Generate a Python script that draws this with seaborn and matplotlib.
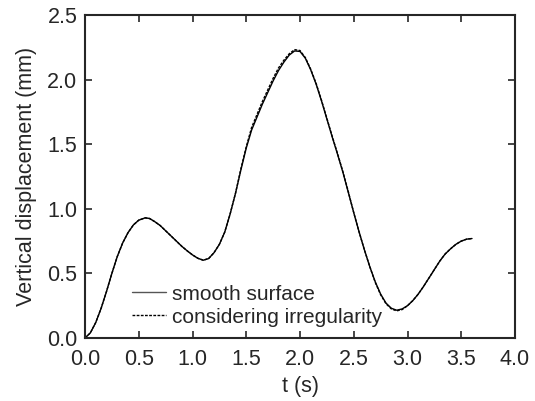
import numpy as np
import pandas as pd
import matplotlib
matplotlib.use("Agg")
import matplotlib.pyplot as plt
import seaborn as sns

t = [0.0, 0.05, 0.1, 0.15, 0.2, 0.25, 0.3, 0.35, 0.4, 0.45, 0.5, 0.56, 0.6, 0.65,
     0.7, 0.75, 0.8, 0.85, 0.9, 0.95, 1.0, 1.05, 1.1, 1.15, 1.2, 1.25, 1.3, 1.35,
     1.4, 1.45, 1.5, 1.55, 1.6, 1.65, 1.7, 1.75, 1.8, 1.85, 1.9, 1.95, 2.0, 2.05,
     2.1, 2.15, 2.2, 2.25, 2.3, 2.35, 2.4, 2.45, 2.5, 2.55, 2.6, 2.65, 2.7, 2.75,
     2.8, 2.85, 2.9, 2.95, 3.0, 3.05, 3.1, 3.15, 3.2, 3.25, 3.3, 3.35, 3.4, 3.45,
     3.5, 3.55, 3.6]
smooth = [0.0, 0.04, 0.12, 0.23, 0.36, 0.50, 0.63, 0.735, 0.815, 0.875, 0.912, 0.93, 0.925, 0.90,
          0.87, 0.83, 0.79, 0.75, 0.71, 0.675, 0.643, 0.617, 0.602, 0.615, 0.66, 0.725, 0.82, 0.96,
          1.12, 1.30, 1.47, 1.61, 1.71, 1.81, 1.90, 1.99, 2.07, 2.135, 2.19, 2.222, 2.218, 2.165,
          2.075, 1.965, 1.835, 1.695, 1.555, 1.42, 1.28, 1.125, 0.97, 0.82, 0.68, 0.55, 0.435, 0.34,
          0.27, 0.23, 0.215, 0.225, 0.25, 0.29, 0.34, 0.40, 0.465, 0.53, 0.595, 0.65, 0.69, 0.725,
          0.75, 0.765, 0.77]
irregular = [0.0, 0.04, 0.12, 0.23, 0.36, 0.50, 0.63, 0.735, 0.815, 0.875, 0.912, 0.93, 0.925, 0.90,
             0.87, 0.83, 0.79, 0.75, 0.71, 0.675, 0.643, 0.617, 0.602, 0.615, 0.66, 0.725, 0.82, 0.96,
             1.12, 1.31, 1.48, 1.63, 1.73, 1.83, 1.92, 2.01, 2.09, 2.15, 2.20, 2.232, 2.225, 2.17,
             2.08, 1.97, 1.84, 1.70, 1.56, 1.425, 1.285, 1.13, 0.97, 0.82, 0.68, 0.55, 0.43, 0.335,
             0.265, 0.225, 0.21, 0.22, 0.25, 0.29, 0.34, 0.40, 0.465, 0.53, 0.595, 0.65, 0.69, 0.725,
             0.75, 0.765, 0.77]
labels = ["smooth surface", "considering irregularity"]
xticks = [0.0, 0.5, 1.0, 1.5, 2.0, 2.5, 3.0, 3.5, 4.0]
yticks = [0.0, 0.5, 1.0, 1.5, 2.0, 2.5]

df = pd.DataFrame({
    "t": t + t,
    "v": smooth + irregular,
    "case": [labels[0]] * len(t) + [labels[1]] * len(t),
})

sns.set_style("ticks")
plt.rcParams["font.family"] = ["Liberation Sans", "DejaVu Sans"]

fig = plt.figure(figsize=(5.35, 4.01), dpi=100)
ax = fig.add_axes([85 / 535, 1 - 338 / 401, 430 / 535, 323 / 401])

sns.lineplot(data=df, x="t", y="v", hue="case", style="case",
             palette=["black", "black"], dashes=[(None, None), (2, 1)],
             linewidth=1.0, ax=ax, legend=True)

ax.set_xlim(0, 4.0)
ax.set_ylim(0, 2.5)
ax.set_xticks(xticks)
ax.set_yticks(yticks)
ax.set_xticklabels([f"{v:.1f}" for v in xticks])
ax.set_yticklabels([f"{v:.1f}" for v in yticks])
ax.tick_params(direction="in", length=5, width=1.2, labelsize=15.5,
               top=True, right=True)
ax.tick_params(axis="x", pad=8)
ax.tick_params(axis="y", pad=5.5)
for s in ax.spines.values():
    s.set_linewidth(1.5)
    s.set_visible(True)
ax.set_xlabel("t (s)", fontsize=15.5, labelpad=4)
ax.set_ylabel("Vertical displacement (mm)", fontsize=15.5, labelpad=7)

leg = ax.legend(frameon=False, fontsize=15, loc="lower left",
                bbox_to_anchor=(0.109, 0.035), handlelength=1.65,
                handletextpad=0.3, labelspacing=0.2, borderaxespad=0,
                borderpad=0)
leg.get_lines()[0].set_color("#555555")

fig.savefig("out.png", dpi=100)
